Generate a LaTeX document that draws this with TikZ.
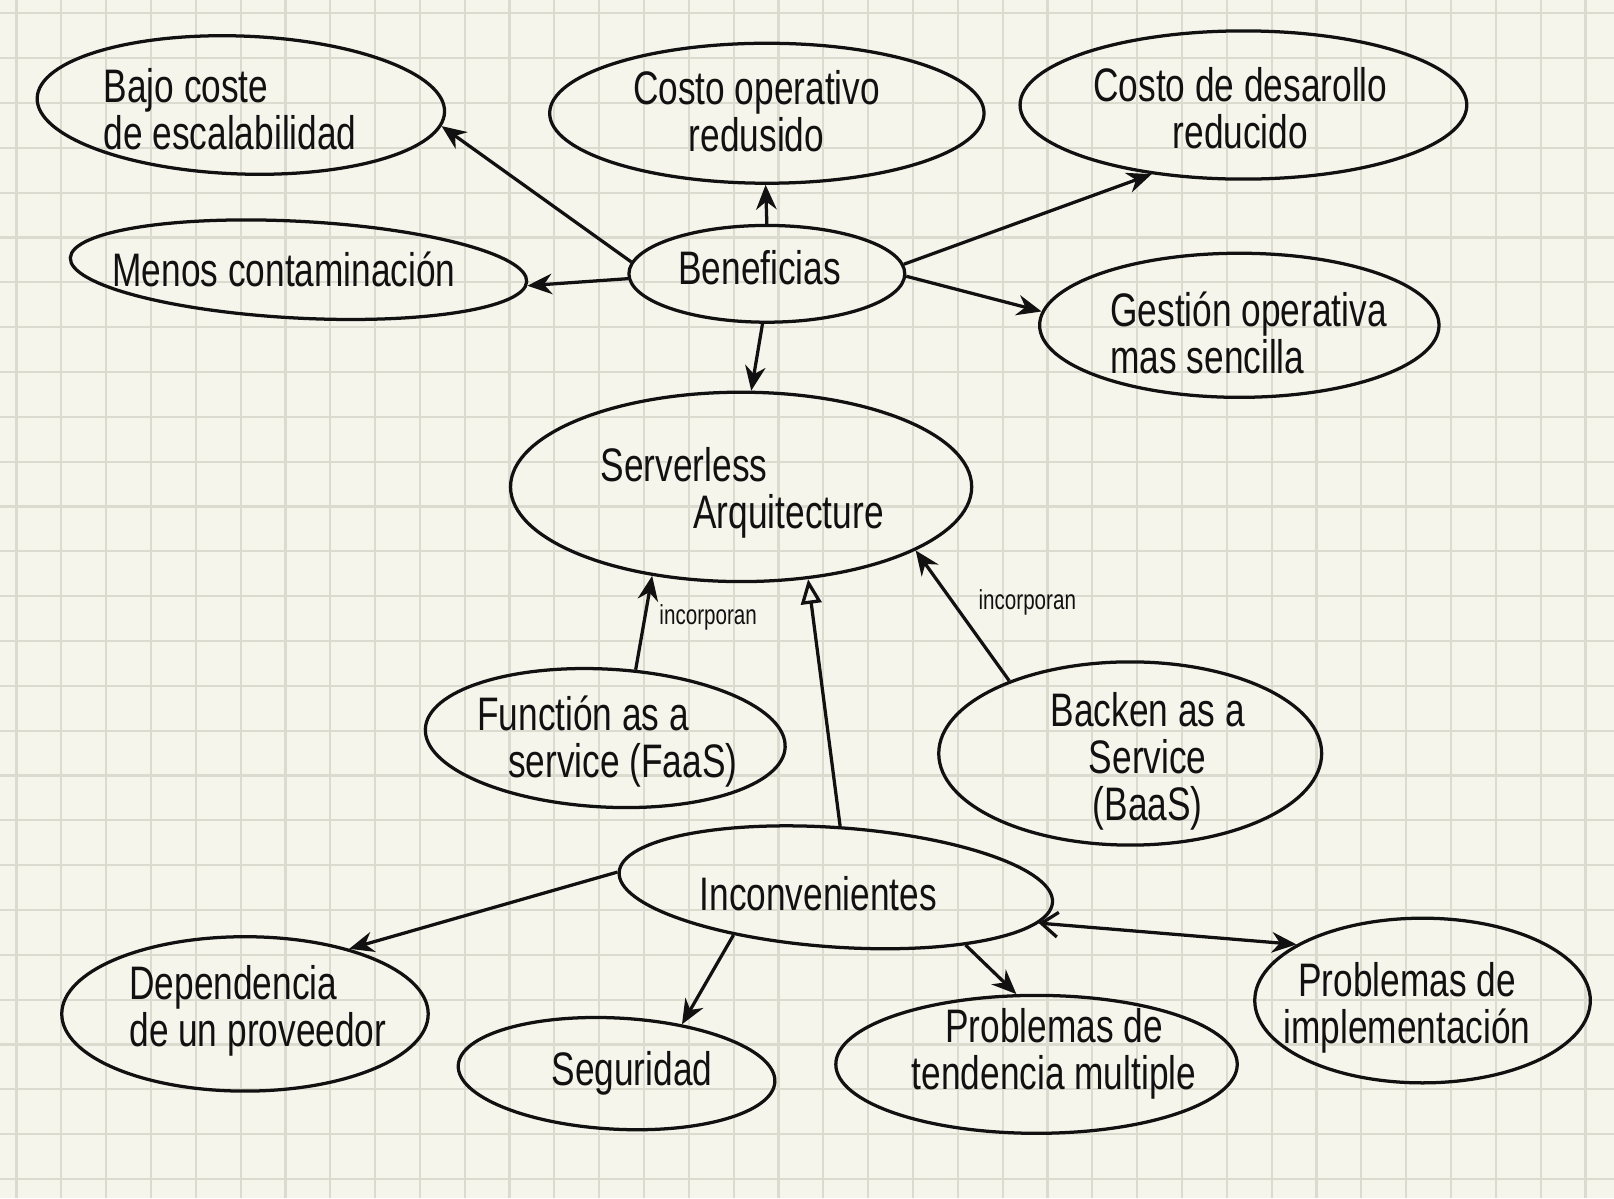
\documentclass[tikz,border=0pt]{standalone}
\usepackage{fontspec}
\newfontfamily\hand{Liberation Sans}[FakeStretch=0.75]
\usetikzlibrary{shapes.geometric,arrows.meta}
\definecolor{paper}{HTML}{F6F5EB}
\definecolor{gridc}{HTML}{DCDBCF}
\definecolor{ink}{HTML}{111111}
\begin{document}
\begin{tikzpicture}[x=0.1mm,y=-0.1mm,
  bub/.style={draw=ink,ellipse,line width=0.9pt,inner sep=0pt},
  lbl/.style={font=\hand\fontsize{13pt}{13pt}\selectfont,inner sep=0pt,align=center,text=ink},
  smalllbl/.style={font=\hand\fontsize{7.6pt}{8pt}\selectfont,inner sep=0pt,text=ink},
  conn/.style={draw=ink,line width=0.9pt,-{Stealth[length=2.4mm,width=2mm]}},
  openconn/.style={draw=ink,line width=0.9pt,-{Triangle[open,length=2.4mm,width=2mm]}},
  dblconn/.style={draw=ink,line width=0.9pt,{Straight Barb[length=1.6mm,width=2.4mm]}-{Stealth[length=2.4mm,width=2mm]}}]
% paper and grid
\fill[paper] (0,0) rectangle (1568,1164);
\useasboundingbox (0,0) rectangle (1568,1164);
\foreach \k in {0,...,35} {\draw[gridc,line width=0.6pt] ({16+43.55*\k},0) -- ({16+43.55*\k},1164);}
\foreach \k in {0,...,26} {\draw[gridc,line width=0.6pt] (0,{13+43.55*\k}) -- (1568,{13+43.55*\k});}

% bubbles
\node[bub,minimum width=39.6mm,minimum height=13.4mm,rotate=-2] (bajo) at (234,102) {};
\node[bub,minimum width=42.2mm,minimum height=13.6mm] (cop) at (745,110) {};
\node[bub,minimum width=43.4mm,minimum height=14.4mm] (cdes) at (1208,102) {};
\node[bub,minimum width=44.4mm,minimum height=9.4mm,rotate=-3] (menos) at (290,262) {};
\node[bub,minimum width=26.8mm,minimum height=9.4mm] (ben) at (745,266) {};
\node[bub,minimum width=38.8mm,minimum height=14.0mm] (gest) at (1204,316) {};
\node[bub,minimum width=44.8mm,minimum height=18.4mm] (serv) at (720,473) {};
\node[bub,minimum width=35.0mm,minimum height=13.4mm,rotate=-3] (func) at (588,717) {};
\node[bub,minimum width=37.2mm,minimum height=17.8mm] (back) at (1098,732) {};
\node[bub,minimum width=42.2mm,minimum height=11.6mm,rotate=-4] (inc) at (812,862) {};
\node[bub,minimum width=35.6mm,minimum height=15.0mm] (dep) at (238,985) {};
\node[bub,minimum width=30.8mm,minimum height=10.8mm,rotate=-3] (seg) at (599,1043) {};
\node[bub,minimum width=39.0mm,minimum height=13.4mm] (pt) at (1007,1034) {};
\node[bub,minimum width=32.6mm,minimum height=16.0mm] (impl) at (1382,972) {};

% texts
\node[lbl,align=left,anchor=west] (tbajo) at (100,106) {Bajo coste\\de escalabilidad};
\node[lbl] (tcop) at (735,108) {Costo operativo\\redusido};
\node[lbl] (tcdes) at (1205,105) {Costo de desarollo\\reducido};
\node[lbl] (tmenos) at (276,262) {Menos contaminación};
\node[lbl] (tben) at (738,260) {Beneficias};
\node[lbl,align=left,anchor=west] (tgest) at (1078,323) {Gestión operativa\\mas sencilla};
\node[lbl,align=left,anchor=west] (tserv) at (583,479) {Serverless\\\hspace*{9mm}Arquitecture};
\node[lbl,align=left,anchor=west] (tfunc) at (463,720) {Functión as a\\\hspace*{3mm}service (FaaS)};
\node[lbl] (tback) at (1115,740) {Backen as a\\Service\\(BaaS)};
\node[lbl] (tinc) at (795,868) {Inconvenientes};
\node[lbl,align=left,anchor=west] (tdep) at (125,982) {Dependencia\\de un proveedor};
\node[lbl] (tseg) at (614,1043) {Seguridad};
\node[lbl] (tpt) at (1024,1024) {Problemas de\\tendencia multiple};
\node[lbl] (timpl) at (1367,979) {Problemas de\\implementación};
\node[smalllbl] (inc1) at (688,600) {incorporan};
\node[smalllbl] (inc2) at (998,585) {incorporan};

% connectors
\draw[conn] (ben.175) -- (bajo.-4);
\draw[conn] (ben.182) -- (menos.-1);
\draw[conn] (ben.90) -- (cop.-91);
\draw[conn] (ben.4) -- (cdes.-143);
\draw[conn] (ben.-1) -- (gest.176);
\draw[conn] (ben.-95) -- (serv.84);
\draw[conn] (func.69) -- (serv.-135);
\draw[conn] (back.149) -- (serv.-20);
\draw[openconn] (inc.90) -- (serv.-54);
\draw[conn] (inc.180) -- (dep.32);
\draw[conn] (inc.-151) -- (seg.40);
\draw[conn] (inc.-20) -- (pt.106);
\draw[dblconn] (inc.-6) -- (impl.156);
\end{tikzpicture}
\end{document}
